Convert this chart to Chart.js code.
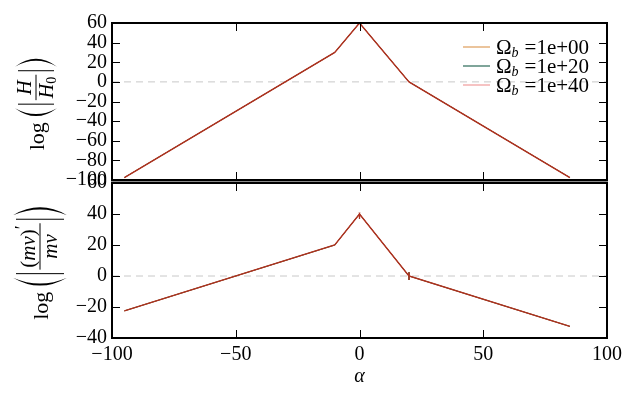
<!DOCTYPE html>
<html>
<head>
<meta charset="utf-8">
<script src="https://cdn.jsdelivr.net/npm/chart.js@4.4.1/dist/chart.umd.min.js"></script>
<style>
  html, body { margin: 0; padding: 0; background: #fff; }
  #wrap { position: relative; width: 637px; height: 406px; }
  #wrap canvas { position: absolute; left: 0; top: 0; }
</style>
</head>
<body>
<div id="wrap">
  <canvas id="topChart" width="637" height="406"></canvas>
  <canvas id="bottomChart" width="637" height="406"></canvas>
</div>
<script>
// legend entries (Omega_b values)
const omegaLabels = ["1e+00", "1e+20", "1e+40"];

// tick values
const alphaTicks = [-100, -50, 0, 50, 100];
const hTicks = [-100, -80, -60, -40, -20, 0, 20, 40, 60];
const mnuTicks = [-40, -20, 0, 20, 40, 60];

// top panel: log|H/H0| vs alpha
const alphaH = [-95, -10, 0, 20, 85];
const logH = [-97.5, 30, 60, 0, -97.5];

// bottom panel: log|(m nu)'/(m nu)| vs alpha
const alphaMnu = [-95, -10, 0, 0, 0, 20, 20, 20, 20, 85];
const logMnu = [-22.5, 20, 40, 37, 40, 0, 2.5, -2.5, 0, -32.5];

const lineColors = ["#e39b52", "#2e6b55", "#b0301f"];
const lineWidths = [1, 1, 1.4];
const legendColors = ["#e0a467", "#3a7563", "#f2a3a3"];

const FONT = '"Liberation Serif", "DejaVu Serif", serif';
Chart.defaults.font.family = FONT;
Chart.defaults.font.size = 20;
Chart.defaults.color = "#000";

const fmt = (v) => String(v).replace("-", "\u2212");

function fontOf(s) {
  return (s.it ? "italic " : "") + (s.size || 20) + "px " + FONT;
}
function runWidth(ctx, segs) {
  let w = 0;
  segs.forEach((s) => {
    ctx.font = fontOf(s);
    w += ctx.measureText(s.t).width + (s.gap || 0);
  });
  return w;
}
function drawRun(ctx, segs, x, y) {
  segs.forEach((s) => {
    ctx.font = fontOf(s);
    ctx.fillText(s.t, x, y + (s.dy || 0));
    x += ctx.measureText(s.t).width + (s.gap || 0);
  });
  return x;
}

function paren(ctx, x, top, bot, pw, left) {
  const mid = (top + bot) / 2;
  ctx.beginPath();
  if (left) {
    ctx.moveTo(x + pw, top);
    ctx.quadraticCurveTo(x - pw * 0.75, mid, x + pw, bot);
    ctx.quadraticCurveTo(x - pw * 0.3, mid, x + pw, top);
  } else {
    ctx.moveTo(x, top);
    ctx.quadraticCurveTo(x + pw * 1.75, mid, x, bot);
    ctx.quadraticCurveTo(x + pw * 1.3, mid, x, top);
  }
  ctx.fill();
}

function drawLogLabel(ctx, sx, sy, num, den, half) {
  ctx.save();
  ctx.translate(sx, sy);
  ctx.rotate(-Math.PI / 2);
  ctx.fillStyle = "#000";
  ctx.strokeStyle = "#000";
  ctx.textBaseline = "alphabetic";
  const logSegs = [{ t: "log", size: 22 }];
  const wLog = runWidth(ctx, logSegs);
  const wNum = runWidth(ctx, num);
  const wDen = runWidth(ctx, den);
  const wFrac = Math.max(wNum, wDen) + 4;
  const pw = 9, gap = 3;
  const total = wLog + 5 + pw + gap + 2 + gap + wFrac + gap + 2 + gap + pw;
  let x = -total / 2;
  const bar = -8, top = bar - half, bot = bar + half;
  drawRun(ctx, logSegs, x, 0);
  x += wLog + 5;
  paren(ctx, x, top, bot, pw, true);
  x += pw + gap;
  ctx.lineWidth = 1;
  ctx.beginPath(); ctx.moveTo(x + 1, top + 3); ctx.lineTo(x + 1, bot - 3); ctx.stroke();
  x += 2 + gap;
  ctx.beginPath(); ctx.moveTo(x, bar); ctx.lineTo(x + wFrac, bar); ctx.stroke();
  drawRun(ctx, num, x + (wFrac - wNum) / 2, bar - 5);
  drawRun(ctx, den, x + (wFrac - wDen) / 2, bar + 17);
  x += wFrac + gap;
  ctx.beginPath(); ctx.moveTo(x + 1, top + 3); ctx.lineTo(x + 1, bot - 3); ctx.stroke();
  x += 2 + gap;
  paren(ctx, x, top, bot, pw, false);
  ctx.restore();
}

const framePlugin = {
  id: "frame",
  beforeDatasetsDraw(chart) {
    const { ctx, chartArea: a, scales } = chart;
    const y0 = scales.y.getPixelForValue(0);
    ctx.save();
    ctx.strokeStyle = "#c8c8c8";
    ctx.lineWidth = 1;
    ctx.setLineDash([7, 5]);
    ctx.beginPath();
    ctx.moveTo(a.left, y0);
    ctx.lineTo(a.right, y0);
    ctx.stroke();
    ctx.restore();
  },
  afterDraw(chart, args, opts) {
    const { ctx, chartArea: a, scales } = chart;
    ctx.save();
    if (opts.band) {
      ctx.fillStyle = "#8a8a8a";
      ctx.fillRect(a.left - 1, a.bottom, a.right - a.left + 2, 3);
    }
    // inward ticks
    ctx.strokeStyle = "#000";
    ctx.lineWidth = 1;
    ctx.beginPath();
    alphaTicks.forEach((v) => {
      const px = Math.round(scales.x.getPixelForValue(v)) + 0.5;
      ctx.moveTo(px, a.top); ctx.lineTo(px, a.top + 8);
      ctx.moveTo(px, a.bottom); ctx.lineTo(px, a.bottom - 8);
    });
    opts.yTicks.forEach((v) => {
      const py = Math.round(scales.y.getPixelForValue(v)) + 0.5;
      ctx.moveTo(a.left, py); ctx.lineTo(a.left + 8, py);
      ctx.moveTo(a.right, py); ctx.lineTo(a.right - 8, py);
    });
    ctx.stroke();
    // frame
    ctx.lineWidth = 2;
    ctx.strokeRect(a.left, a.top, a.right - a.left, a.bottom - a.top);

    ctx.fillStyle = "#000";
    drawLogLabel(ctx, opts.labelX, opts.labelY, opts.num, opts.den, opts.half);

    if (opts.xTitle) {
      ctx.font = fontOf({ it: true });
      ctx.textAlign = "center";
      ctx.fillText("\u03b1", (a.left + a.right) / 2, 382);
    }

    if (opts.legend) {
      const rows = [47, 66, 85];
      omegaLabels.forEach((lab, i) => {
        const ry = rows[i];
        ctx.strokeStyle = legendColors[i];
        ctx.lineWidth = 1.3;
        ctx.beginPath(); ctx.moveTo(463, ry); ctx.lineTo(490, ry); ctx.stroke();
        ctx.fillStyle = "#000";
        ctx.textAlign = "left";
        drawRun(ctx, [
          { t: "\u03a9", size: 21 },
          { t: "b", it: true, size: 14, dy: 3, gap: 6 },
          { t: "=" + lab, size: 21 },
        ], 496, ry + 7);
      });
    }
    ctx.restore();
  },
};

function makeChart(id, xs, ys, yTicks, pad, showX, frameOpts) {
  return new Chart(document.getElementById(id), {
    type: "scatter",
    data: {
      datasets: omegaLabels.map((lab, i) => ({
        label: lab,
        data: xs.map((x, j) => ({ x, y: ys[j] })),
        showLine: true,
        borderColor: lineColors[i],
        backgroundColor: lineColors[i],
        borderWidth: lineWidths[i],
        pointRadius: 0,
        tension: 0,
        order: omegaLabels.length - i,
      })),
    },
    options: {
      responsive: false,
      animation: false,
      events: [],
      layout: { padding: pad },
      plugins: {
        legend: { display: false },
        tooltip: { enabled: false },
        frame: Object.assign({ yTicks }, frameOpts),
      },
      scales: {
        x: {
          type: "linear",
          min: alphaTicks[0],
          max: alphaTicks[alphaTicks.length - 1],
          display: showX,
          grid: { display: false, drawTicks: false },
          border: { display: false },
          ticks: { stepSize: 50, padding: 5, maxRotation: 0, autoSkip: false, callback: fmt },
          afterFit: (s) => { s.height = showX ? 68 : 0; },
        },
        y: {
          min: yTicks[0],
          max: yTicks[yTicks.length - 1],
          grid: { display: false, drawTicks: false },
          border: { display: false },
          ticks: { stepSize: 20, padding: 5, autoSkip: false, callback: fmt },
          afterFit: (s) => { s.width = 112; },
        },
      },
    },
    plugins: [framePlugin],
  });
}

makeChart("topChart", alphaH, logH, hTicks,
  { left: 0, right: 30, top: 23, bottom: 226 }, false,
  {
    band: true, legend: true, labelX: 44, labelY: 104, half: 21,
    num: [{ t: "H", it: true }],
    den: [{ t: "H", it: true }, { t: "0", size: 14, dy: 3 }],
  });

makeChart("bottomChart", alphaMnu, logMnu, mnuTicks,
  { left: 0, right: 30, top: 183, bottom: 0 }, true,
  {
    xTitle: true, labelX: 48, labelY: 263, half: 27,
    num: [{ t: "(", size: 21 }, { t: "m\u03bd", it: true, size: 21 }, { t: ")", size: 21 }, { t: "\u2032", size: 18, dy: -7 }],
    den: [{ t: "m\u03bd", it: true, size: 21 }],
  });
</script>
</body>
</html>
